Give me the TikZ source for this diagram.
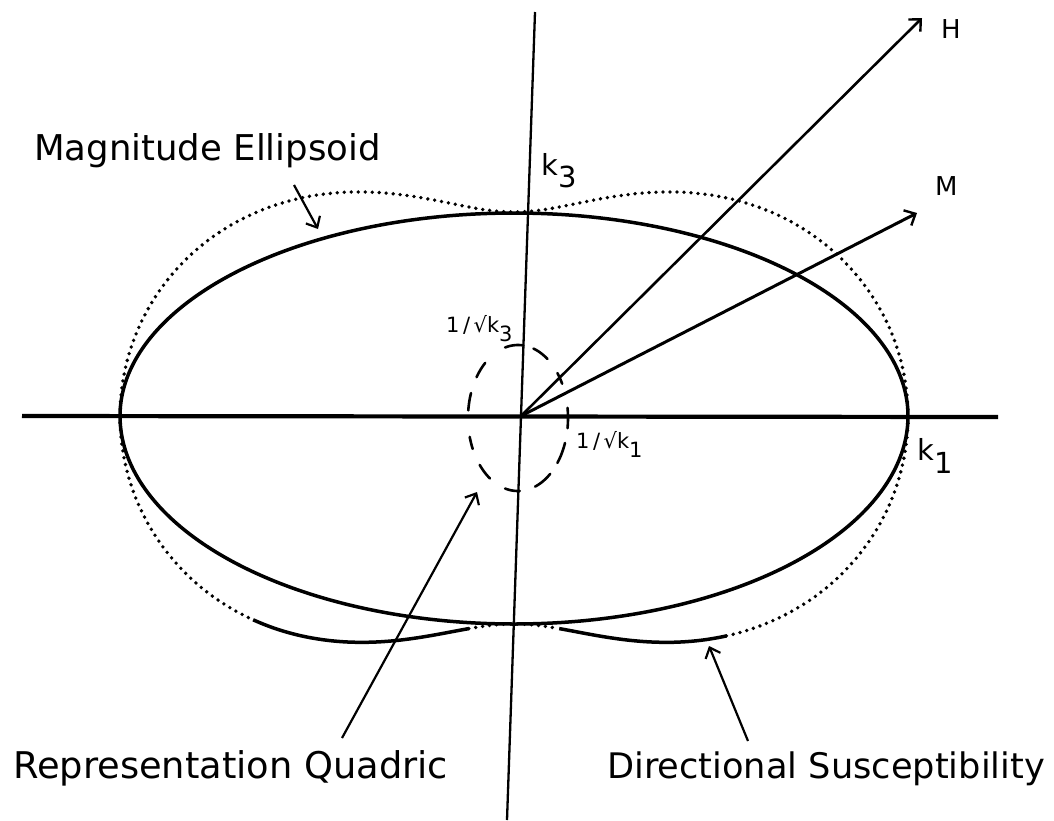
\documentclass[tikz,border=0pt]{standalone}
\usepackage{fontspec}
\setmainfont{DejaVu Sans}
\usetikzlibrary{arrows.meta}
\newcommand\lowsub[2]{\raisebox{-#1}{#2}}
\begin{document}
\begin{tikzpicture}[x=1pt,y=-1pt,
  axisline/.style={line width=4.2pt},
  vaxisline/.style={line width=2.3pt},
  vec/.style={line width=2.6pt,-{Straight Barb[length=9pt,width=17pt,line width=2.4pt]}},
  pointer/.style={line width=2.2pt,-{Straight Barb[length=9pt,width=16pt,line width=2.2pt]}},
  ellcurve/.style={line width=3.5pt},
  dotcurve/.style={line width=3.8pt,line cap=round,dash pattern=on 0pt off 7pt},
  quadric/.style={line width=2.6pt,line cap=round},
  biglabel/.style={inner sep=0pt,anchor=base west},
  smalllabel/.style={inner sep=0pt,anchor=base west,font=\fontsize{21}{24}\selectfont},
  declare function={pr(\t,\b)=394*cos(\t)*cos(\t)+\b*sin(\t)*sin(\t)+8*sin(2*\t)*sin(2*\t);}
]
\useasboundingbox (0,0) rectangle (1054,820);

% axes
\coordinate (O) at (521,416);
\coordinate (hl) at (22,416);
\coordinate (hr) at (998,417);
\coordinate (vtop) at (535,12);
\coordinate (vbot) at (507,820);
\draw[axisline] (hl) -- (hr);
\draw[vaxisline] (vtop) -- (vbot);

% magnitude ellipse (solid)
\draw[ellcurve] plot[domain=0:180,samples=120,smooth] ({514+394*cos(\x)},{416-203*sin(\x)});
\draw[ellcurve] plot[domain=180:360,samples=120,smooth] ({514+394*cos(\x)},{416-208*sin(\x)});

% directional susceptibility (peanut)
\draw[dotcurve] plot[domain=0:180,samples=140,smooth] ({514+pr(\x,204)*cos(\x)},{416-pr(\x,204)*sin(\x)});
\draw[dotcurve] plot[domain=180:218,samples=40,smooth] ({514+pr(\x,208)*cos(\x)},{416-pr(\x,208)*sin(\x)});
\draw[ellcurve] plot[domain=218:258,samples=40,smooth] ({514+pr(\x,208)*cos(\x)},{416-pr(\x,208)*sin(\x)});
\draw[dotcurve] plot[domain=258:282,samples=30,smooth] ({514+pr(\x,208)*cos(\x)},{416-pr(\x,208)*sin(\x)});
\draw[ellcurve] plot[domain=282:314,samples=40,smooth] ({514+pr(\x,208)*cos(\x)},{416-pr(\x,208)*sin(\x)});
\draw[dotcurve] plot[domain=314:360,samples=50,smooth] ({514+pr(\x,208)*cos(\x)},{416-pr(\x,208)*sin(\x)});

% representation quadric (dashed)
\foreach \a/\b in {-8/8, 28/38, 54/72, 84/105, 131/146, 160/174, 195/205, 220/236, 255/272, 290/310, 322/340}
  \draw[quadric] plot[domain=\a:\b,samples=12,smooth] ({518+50*cos(\x)},{418-73*sin(\x)});

% vectors
\coordinate (Htip) at (922,18);
\coordinate (Mtip) at (917,213);
\draw[vec] (O) -- (Htip);
\draw[vec,line width=3pt] (O) -- (Mtip);
\node[biglabel,font=\fontsize{26}{30}\selectfont] (Hlab) at (941,38) {H};
\node[biglabel,font=\fontsize{26}{30}\selectfont] (Mlab) at (935,195) {M};

% axis labels
\node[biglabel,font=\fontsize{29}{32}\selectfont] (k3lab) at (541,175) {k\lowsub{12pt}{3}};
\node[biglabel,font=\fontsize{29}{32}\selectfont] (k1lab) at (917,460) {k\lowsub{13pt}{1}};
\node[smalllabel] (rk3lab) at (446,332) {1\,/\,√k\lowsub{9pt}{3}};
\node[smalllabel] (rk1lab) at (576,448) {1\,/\,√k\lowsub{9pt}{1}};

% callout labels
\node[biglabel,font=\fontsize{35.5}{40}\selectfont] (maglab) at (34,160) {Magnitude Ellipsoid};
\node[biglabel,font=\fontsize{36.8}{40}\selectfont] (replab) at (13,778) {Representation Quadric};
\node[biglabel,font=\fontsize{35.2}{40}\selectfont] (dirlab) at (607,778) {Directional Susceptibility};

\coordinate (magFrom) at (294,185);
\coordinate (magTo) at (318,229);
\coordinate (repFrom) at (342,738);
\coordinate (repTo) at (477,492);
\coordinate (dirFrom) at (748,741);
\coordinate (dirTo) at (709,646);
\draw[pointer] (magFrom) -- (magTo);
\draw[pointer] (repFrom) -- (repTo);
\draw[pointer] (dirFrom) -- (dirTo);
\end{tikzpicture}
\end{document}
